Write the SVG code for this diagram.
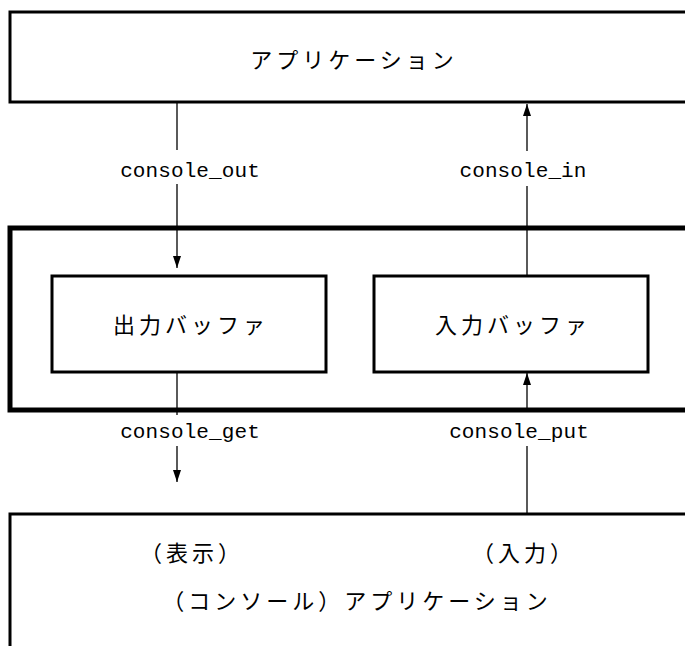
<svg xmlns="http://www.w3.org/2000/svg" width="685" height="646" viewBox="0 0 685 646">
  <defs>
    <marker id="arrow" viewBox="0 0 12 8" refX="12" refY="4" markerWidth="12" markerHeight="8" markerUnits="userSpaceOnUse" orient="auto">
      <path d="M0,0 L12,4 L0,8 Z" fill="#000"/>
    </marker>
  </defs>
  <style>
    .box { fill: #fff; stroke: #000; stroke-width: 3; }
    .frame { fill: #fff; stroke: #000; stroke-width: 5; }
    .jp { font-family: "Noto Sans CJK JP", "Noto Sans", sans-serif; font-size: 22px; letter-spacing: 4px; fill: #000; text-anchor: middle; }
    .mono { font-family: "Liberation Mono", "DejaVu Sans Mono", monospace; font-size: 21px; letter-spacing: 0.1px; fill: #000; text-anchor: middle; }
    .wire { stroke: #000; stroke-width: 1.3; fill: none; }
  </style>
  <rect width="685" height="646" fill="#fff"/>

  <g id="app-top">
    <rect class="box" x="10" y="12" width="690" height="90"/>
    <text class="jp" x="354" y="68">アプリケーション</text>
  </g>

  <g id="buffers">
    <rect class="frame" x="10" y="228" width="690" height="182"/>
  </g>

  <g id="out-buffer">
    <rect class="box" x="52" y="276" width="274" height="96"/>
    <text class="jp" x="191" y="333">出力バッファ</text>
  </g>

  <g id="in-buffer">
    <rect class="box" x="374" y="276" width="274" height="96"/>
    <text class="jp" x="513" y="333">入力バッファ</text>
  </g>

  <g id="app-console">
    <rect class="box" x="10" y="514" width="690" height="150"/>
    <text class="jp" x="192" y="561">（表示）</text>
    <text class="jp" x="524" y="561">（入力）</text>
    <text class="jp" x="357" y="609">（コンソール）アプリケーション</text>
  </g>

  <g id="connectors">
    <line class="wire" x1="177" y1="103" x2="177" y2="150"/>
    <line class="wire" x1="177" y1="184" x2="177" y2="268" marker-end="url(#arrow)"/>
    <text class="mono" x="190" y="177">console_out</text>

    <line class="wire" x1="527" y1="276" x2="527" y2="186"/>
    <line class="wire" x1="527" y1="151" x2="527" y2="104" marker-end="url(#arrow)"/>
    <text class="mono" x="523" y="177">console_in</text>

    <line class="wire" x1="177" y1="373" x2="177" y2="415"/>
    <line class="wire" x1="177" y1="446" x2="177" y2="482" marker-end="url(#arrow)"/>
    <text class="mono" x="190" y="438">console_get</text>

    <line class="wire" x1="527" y1="513" x2="527" y2="446"/>
    <line class="wire" x1="527" y1="412" x2="527" y2="373" marker-end="url(#arrow)"/>
    <text class="mono" x="519" y="438">console_put</text>
  </g>
</svg>
